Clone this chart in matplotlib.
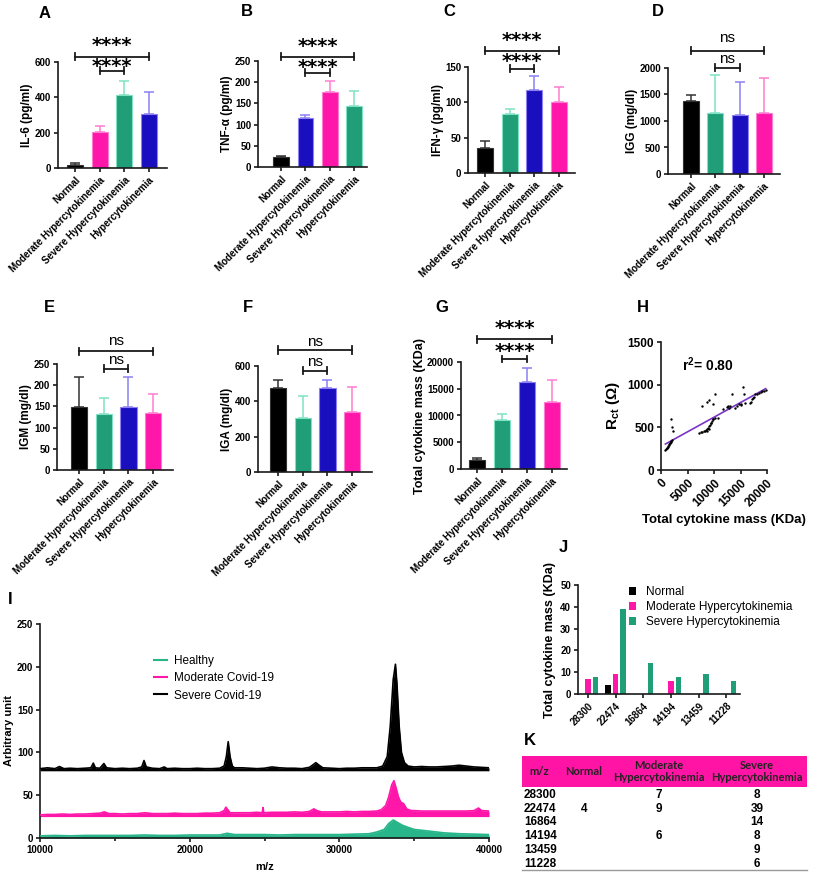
import numpy as np
import matplotlib
matplotlib.use("Agg")
import matplotlib.pyplot as plt
from matplotlib import transforms
from matplotlib.patches import Rectangle
from matplotlib.lines import Line2D

plt.rcParams['font.family'] = ['Liberation Sans', 'DejaVu Sans']
plt.rcParams['font.weight'] = 'bold'
plt.rcParams['axes.labelweight'] = 'bold'
plt.rcParams['mathtext.fontset'] = 'custom'
plt.rcParams['mathtext.rm'] = 'Liberation Sans:bold'
plt.rcParams['mathtext.bf'] = 'Liberation Sans:bold'
plt.rcParams['mathtext.it'] = 'Liberation Sans:bold'

# ---------------- data ----------------
groups = ['Normal', 'Moderate Hypercytokinemia', 'Severe Hypercytokinemia', 'Hypercytokinemia']

il6_mean = [17, 204, 416, 307]
il6_upper = [26, 235, 494, 429]
tnf_mean = [24, 115, 176, 143]
tnf_upper = [27, 122, 203, 180]
ifn_mean = [35, 84, 118, 100]
ifn_upper = [45, 91, 137, 122]
igg_mean = [1370, 1160, 1120, 1150]
igg_upper = [1495, 1865, 1728, 1810]
igm_mean = [149, 131, 149, 135]
igm_upper = [220, 169, 220, 179]
iga_mean = [474, 304, 474, 342]
iga_upper = [521, 432, 521, 479]
mass_mean = [1700, 9120, 16200, 12450]
mass_upper = [2120, 10190, 18800, 16620]

sig_stars = ['****', '****']
sig_ns = ['ns', 'ns']

# H: Rct vs total cytokine mass
h_mass = [830, 950, 1050, 1150, 1250, 1350, 1450, 1550, 1650, 1750, 1850, 1950, 2050,
          1900, 2040, 2290,
          7200, 7500, 7800, 8100, 8300, 8500, 8600, 8700, 8900, 9000, 9100, 9300, 9400,
          9500, 9700, 9800, 9900, 10100,
          7830, 8600, 9050, 9870, 10190, 10830,
          11650, 12420, 12600, 12740, 13000, 13380, 14010, 14300, 14650, 15000, 15160,
          15410, 15600, 15800,
          16880, 17000, 17200, 17350, 17500, 17830, 18150, 18470, 18790, 19110, 19450, 19750]
h_rct = [240, 248, 256, 263, 272, 281, 290, 300, 312, 322, 332, 341, 350,
         596, 508, 454,
         438, 442, 447, 452, 458, 465, 460, 475, 490, 480, 510, 530, 545,
         555, 575, 600, 595, 612,
         750, 796, 820, 777, 896, 608,
         711, 742, 750, 731, 745, 896, 731, 745, 769, 760, 769,
         973, 885, 781,
         788, 800, 827, 840, 858, 885, 895, 904, 912, 923, 930, 942]
h_r2_text = 'r$^{2}$= 0.80'

# J / K: peaks
peak_mz = ['28300', '22474', '16864', '14194', '13459', '11228']
peak_normal = [0, 4, 0, 0, 0, 0]
peak_moderate = [7, 9, 0, 6, 0, 0]
peak_severe = [8, 39, 14, 8, 9, 6]
table_header = ['m/z', 'Normal', 'Moderate\nHypercytokinemia', 'Severe\nHypercytokinemia']

# I: MALDI spectra
sev_mz = [10000, 10500, 11000, 11300, 11600, 12000, 12500, 13000, 13400, 13560, 13700,
          14000, 14270, 14450, 15000, 15500, 16000, 16500, 16800, 16950, 17100, 17500,
          18000, 18300, 18500, 19000, 19500, 20000, 20500, 21000, 21500, 22000, 22300,
          22450, 22575, 22700, 22850, 23000, 23500, 24000, 24500, 25000, 25500, 26000,
          26500, 27000, 27500, 28000, 28200, 28430, 28650, 28900, 29500, 30000, 30500,
          31000, 31500, 32000, 32500, 32900, 33200, 33400, 33600, 33750, 33850, 34000,
          34150, 34350, 34600, 35000, 35500, 36000, 36500, 37000, 37500, 38000, 38500,
          39000, 39500, 40000]
sev_int = [81, 82, 81, 83.5, 81, 81.5, 81, 81.5, 82, 87.5, 82,
           81.5, 87, 82, 81, 81.5, 81, 81.5, 83, 90.5, 83, 81.5,
           81, 83, 81, 81.5, 81, 81, 81.5, 81, 81, 81.5, 84,
           95, 112.5, 95, 84, 82, 82, 81.5, 81, 81.5, 83, 82,
           81.5, 81.5, 81, 82.5, 85, 88, 85, 82, 81.5, 81, 81.5,
           81.5, 82, 82, 82, 84, 95, 130, 185, 203, 180, 130,
           100, 88, 84, 83, 83.5, 83, 83, 83.5, 84, 85, 84,
           83, 82.5, 82]
mod_mz = [10000, 10500, 11000, 11500, 12000, 12500, 13000, 13500, 14000, 14300, 14600,
          15000, 15500, 16000, 16500, 17000, 17500, 18000, 18500, 19000, 19500, 20000,
          20500, 21000, 21500, 22000, 22300, 22420, 22550, 22700, 23000, 23500, 24000,
          24500, 24850, 24900, 24950, 25500, 26000, 26500, 27000, 27500, 28000, 28300,
          28500, 28800, 29500, 30000, 30500, 31000, 31500, 32000, 32500, 32800, 33100,
          33300, 33500, 33650, 33800, 33950, 34100, 34300, 34500, 34800, 35000, 35500,
          36000, 36500, 37000, 37500, 38000, 38500, 39000, 39300, 39500, 40000]
mod_int = [27, 27.5, 27.5, 28, 27.5, 28, 28, 28.5, 29, 30.5, 28.5,
           28.5, 28, 28.5, 28.5, 29.5, 28.5, 28.5, 28.5, 29, 28.5, 28.5,
           28.5, 29, 29, 29.5, 32, 36, 33, 29.5, 29.5, 29.5, 29.5,
           30, 29.5, 35.5, 29.5, 30, 30, 30, 30.5, 30, 31, 34,
           32, 30.5, 30.5, 30.5, 31, 30.5, 31, 31, 31.5, 33, 38,
           48, 62, 67, 58, 48, 42, 40, 34, 32, 32, 31.5,
           31.5, 31.5, 31.5, 31.5, 31.5, 31.5, 32, 35, 32, 31.5]
hea_mz = [10000, 11000, 12000, 13000, 14000, 15000, 16000, 17000, 18000, 19000, 20000,
          21000, 22000, 22500, 23000, 24000, 25000, 26000, 27000, 28000, 29000, 30000,
          31000, 32000, 32500, 33000, 33300, 33600, 33900, 34200, 34500, 35000, 35500,
          36000, 36500, 37000, 37500, 38000, 39000, 40000]
hea_int = [2.5, 3, 2.5, 3, 3, 3, 3, 3.5, 3, 3, 3.5,
           3.5, 3.5, 5.5, 4, 4, 4, 3.5, 4, 4, 4, 4,
           4.5, 5, 7, 10, 17, 21, 18, 15, 13, 10, 9,
           8, 7, 6, 5.5, 5, 4.5, 4]
spectra_labels = ['Healthy', 'Moderate Covid-19', 'Severe Covid-19']

# ---------------- style ----------------
W, H = 815, 872
fig = plt.figure(figsize=(W / 100, H / 100), dpi=100)

BLACK = ('#000000', '#333333')
PINK = ('#FF17AA', '#FF7DD0')
GREEN = ('#1F9E78', '#80E2C2')
BLUE = ('#1A0FBF', '#8C80F2')
AXC = '#1a1a1a'


def fy(p):
    return 1 - p / H


def px_axes(l, t, r, b):
    return fig.add_axes([l / W, 1 - b / H, (r - l) / W, (b - t) / H])


def style(ax, ls=7):
    for s in ['top', 'right']:
        ax.spines[s].set_visible(False)
    for s in ['left', 'bottom']:
        ax.spines[s].set_linewidth(1.2)
        ax.spines[s].set_color(AXC)
    ax.tick_params(width=1.2, length=3, labelsize=ls, color=AXC, pad=2)


def letter(ch, x, y):
    fig.text(x / W, fy(y), ch, ha='center', va='center', fontsize=12, weight='bold')


def bar_panel(box, xl, means, uppers, cols, ytop, ystep, ylabel, sig, br_y, txt_y,
              ylsize=8.5):
    l, t, r, b = box
    ax = px_axes(l, t, r, b)
    x = np.arange(len(groups))
    for i in range(len(groups)):
        fill, light = cols[i]
        ax.bar(x[i], means[i], width=0.65, color=fill, edgecolor=light, linewidth=0.8, zorder=2)
        ax.errorbar(x[i], means[i], yerr=[[0], [uppers[i] - means[i]]], color=light,
                    capsize=3.5, elinewidth=1.1, capthick=1.1, zorder=3)
    ax.set_xlim(*xl)
    ax.set_ylim(0, ytop)
    ax.set_yticks(np.arange(0, ytop + 1, ystep))
    ax.set_xticks(x)
    ax.set_xticklabels(groups, rotation=45, ha='right', rotation_mode='anchor', fontsize=7.5)
    style(ax)
    ax.set_ylabel(ylabel, fontsize=ylsize, labelpad=1)
    tr = transforms.blended_transform_factory(ax.transData, fig.transFigure)
    for (x0, x1), yb in zip([(0, 3), (1, 2)], br_y):
        ax.plot([x0, x1], [fy(yb)] * 2, color=AXC, lw=1.3, transform=tr, clip_on=False)
        for xx in (x0, x1):
            ax.plot([xx, xx], [fy(yb - 3.5), fy(yb + 3.5)], color=AXC, lw=1.3,
                    transform=tr, clip_on=False)
    gap = txt_y[1] - txt_y[0]
    if sig[0] == 'ns':
        fs = 11
        ax.text(1.5, fy(txt_y[1] + 6), '\n'.join(sig), ha='center', va='baseline',
                fontsize=fs, weight='normal', transform=tr, clip_on=False,
                linespacing=gap / (0.73 * fs * 100 / 72))
    else:
        fs = 14
        ax.text(1.5, fy(txt_y[1] + 9.5), '\n'.join(sig), ha='center', va='baseline',
                fontsize=fs, family='DejaVu Sans', weight='bold', transform=tr,
                clip_on=False, linespacing=gap / (0.76 * fs * 100 / 72))
    return ax


# A
bar_panel((58, 62, 167, 168), (-0.69, 3.73), il6_mean, il6_upper, [BLACK, PINK, GREEN, BLUE],
          600, 200, 'IL-6 (pg/ml)', sig_stars, (57, 71), (46, 62.5))
letter('A', 45, 13)
# B
bar_panel((258, 61, 367, 167), (-0.95, 3.53), tnf_mean, tnf_upper, [BLACK, BLUE, PINK, GREEN],
          250, 50, 'TNF-α (pg/ml)', sig_stars, (57, 73), (47, 63))
letter('B', 247, 12)
# C
bar_panel((468, 67, 575, 173), (-0.69, 3.65), ifn_mean, ifn_upper, [BLACK, GREEN, BLUE, PINK],
          150, 50, 'IFN-γ (pg/ml)', sig_stars, (51, 69), (41, 58))
letter('C', 449, 12)
# D
bar_panel((668, 68, 780, 174), (-0.95, 3.66), igg_mean, igg_upper, [BLACK, GREEN, BLUE, PINK],
          2000, 500, 'IGG (mg/dl)', sig_ns, (51, 68), (39, 57))
letter('D', 658, 12)
# E
bar_panel((57, 364, 173, 470), (-0.89, 3.8), igm_mean, igm_upper, [BLACK, GREEN, BLUE, PINK],
          250, 50, 'IGM (mg/dl)', sig_ns, (351, 369), (342, 358))
letter('E', 49, 308)
# F
bar_panel((258, 366, 372, 472), (-0.81, 3.8), iga_mean, iga_upper, [BLACK, GREEN, BLUE, PINK],
          600, 200, 'IGA (mg/dl)', sig_ns, (350, 371), (343, 360))
letter('F', 248, 308)
# G
bar_panel((461, 362, 567, 469), (-0.64, 3.6), mass_mean, mass_upper, [BLACK, GREEN, BLUE, PINK],
          20000, 5000, 'Total cytokine mass (KDa)', sig_stars, (339, 359), (329, 348), ylsize=9)
letter('G', 442, 308)

# H
axh = px_axes(661, 342, 767, 470)
axh.scatter(h_mass, h_rct, s=3, color='black', zorder=3, linewidths=0)
coef = np.polyfit(h_mass, h_rct, 1)
xl_ = np.array([min(h_mass), max(h_mass)])
axh.plot(xl_, np.polyval(coef, xl_), color='#7A35C8', lw=1.2, zorder=2)
axh.set_xlim(0, 20000)
axh.set_ylim(0, 1500)
axh.set_xticks([0, 5000, 10000, 15000, 20000])
axh.set_yticks([0, 500, 1000, 1500])
axh.set_xticklabels(['0', '5000', '10000', '15000', '20000'], rotation=45, ha='right',
                    rotation_mode='anchor')
style(axh, ls=8.5)
axh.set_ylabel(r'R$_{\mathbf{ct}}$ (Ω)', fontsize=11, labelpad=4)
fig.text(724 / W, fy(520), 'Total cytokine mass (KDa)', ha='center', va='center',
         fontsize=9.5, weight='bold')
fig.text(682 / W, fy(365), h_r2_text, ha='left', va='center', fontsize=10, weight='bold')
letter('H', 643, 308)

# J
axj = px_axes(578, 585, 740, 694)
xj = np.arange(len(peak_mz))
axj.bar(xj - 0.28, peak_normal, width=0.2, color=BLACK[0], label='Normal')
axj.bar(xj, peak_moderate, width=0.2, color=PINK[0], label='Moderate Hypercytokinemia')
axj.bar(xj + 0.27, peak_severe, width=0.2, color=GREEN[0], label='Severe Hypercytokinemia')
axj.set_xlim(-0.36, 5.5)
axj.set_ylim(0, 50)
axj.set_yticks(np.arange(0, 51, 10))
axj.set_xticks(xj)
axj.set_xticklabels(peak_mz, rotation=45, ha='right', rotation_mode='anchor')
style(axj, ls=7)
axj.set_ylabel('Total cytokine mass (KDa)', fontsize=9, labelpad=3)
axj.legend(loc='upper left', bbox_to_anchor=(629 / W, fy(586)), bbox_transform=fig.transFigure,
           frameon=False, prop={'weight': 'normal', 'size': 8.5}, handlelength=0.6,
           handleheight=0.7, handletextpad=0.8, labelspacing=0.25, borderpad=0,
           borderaxespad=0)
letter('J', 563, 548)

# I
axi = px_axes(40, 624, 489, 838)
for mz, it, base, c in [(hea_mz, hea_int, 0, '#27B589'), (mod_mz, mod_int, 25, PINK[0]),
                        (sev_mz, sev_int, 78.5, '#000000')]:
    axi.fill_between(mz, base, it, color=c, lw=0, zorder=2)
    axi.plot(mz, it, color=c, lw=1.2, zorder=3)
axi.set_xlim(10000, 40000)
axi.set_ylim(0, 250)
axi.set_xticks([10000, 20000, 30000, 40000])
axi.set_xticks([15000, 25000, 35000], minor=True)
axi.set_yticks(np.arange(0, 251, 50))
style(axi, ls=7)
axi.tick_params(which='minor', length=2, width=1.2, color=AXC)
axi.set_xlabel('m/z', fontsize=8, labelpad=5)
axi.set_ylabel('Arbitrary unit', fontsize=8, labelpad=2)
handles = [Line2D([], [], color='#27B589', lw=1.5), Line2D([], [], color=PINK[0], lw=1.5),
           Line2D([], [], color='black', lw=1.5)]
axi.legend(handles, spectra_labels, loc='upper left', bbox_to_anchor=(154 / W, fy(655)),
           bbox_transform=fig.transFigure, frameon=False,
           prop={'weight': 'normal', 'size': 8.5}, handlelength=1.1, handletextpad=0.6,
           labelspacing=0.45, borderpad=0, borderaxespad=0)
letter('I', 10, 600)

# K table
letter('K', 530, 740)
fig.add_artist(Rectangle((522 / W, fy(787)), (807 - 522) / W, (787 - 756) / H,
                         transform=fig.transFigure, color='#FF14A5', lw=0))
col_x = [539, 584, 659, 757]
for cx, htxt in zip(col_x, table_header):
    fig.text(cx / W, fy(771.5), htxt, ha='center', va='center', fontsize=8,
             family=['Lato', 'DejaVu Sans'], weight='bold', color='#222222', linespacing=1.1)
row_y = [795, 809, 822, 836, 850, 864]
for ry, mz, nv, mv, sv in zip(row_y, peak_mz, peak_normal, peak_moderate, peak_severe):
    fig.text(524 / W, fy(ry), mz, ha='left', va='center', fontsize=8.5, weight='bold')
    for cx, v in zip(col_x[1:], [nv, mv, sv]):
        if v:
            fig.text(cx / W, fy(ry), str(v), ha='center', va='center', fontsize=8.5,
                     weight='bold')
fig.add_artist(Line2D([522 / W, 807 / W], [fy(870), fy(870)], transform=fig.transFigure,
                      color='#9a9a9a', lw=1))

fig.savefig('out.png', dpi=100)
